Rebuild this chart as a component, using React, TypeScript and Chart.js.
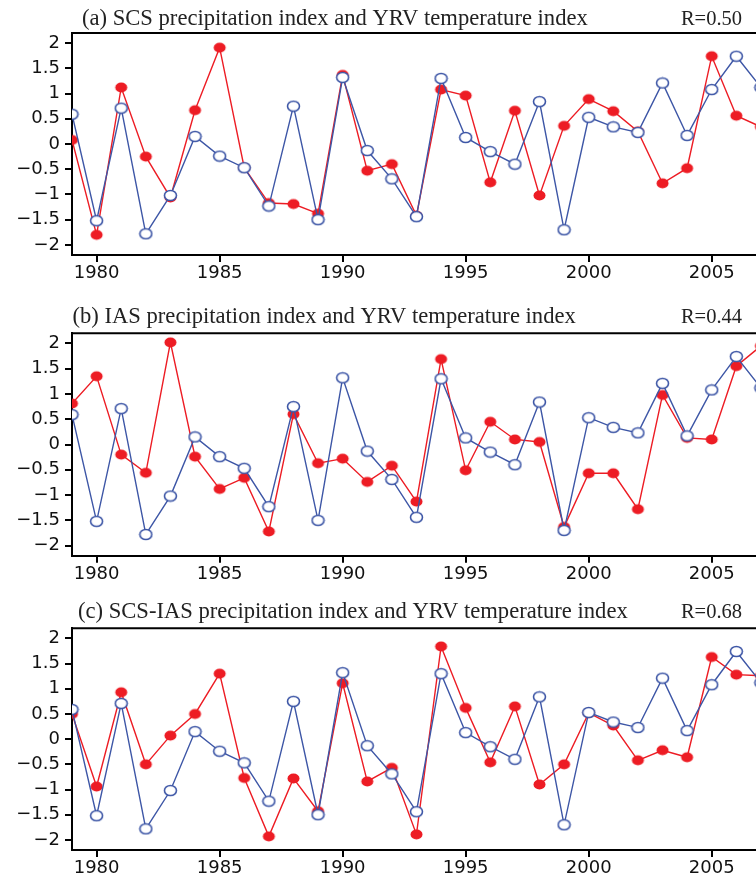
import React, { useEffect, useRef } from 'react';
import { Chart, registerables } from 'chart.js';
Chart.register(...registerables);

// ---------- data ----------
const years = [
  1979, 1980, 1981, 1982, 1983, 1984, 1985, 1986, 1987, 1988, 1989, 1990, 1991, 1992, 1993,
  1994, 1995, 1996, 1997, 1998, 1999, 2000, 2001, 2002, 2003, 2004, 2005, 2006, 2007,
];
const yrvTemperature = [
  0.59, -1.52, 0.71, -1.78, -1.02, 0.15, -0.24, -0.47, -1.23, 0.75, -1.5, 1.32, -0.13, -0.69, -1.44,
  1.3, 0.13, -0.15, -0.4, 0.84, -1.7, 0.53, 0.34, 0.23, 1.21, 0.17, 1.08, 1.74, 1.12,
];
const scsPrecip = [
  0.08, -1.8, 1.12, -0.25, -1.06, 0.67, 1.91, -0.47, -1.17, -1.19, -1.38, 1.37, -0.53, -0.4, -1.42,
  1.08, 0.96, -0.76, 0.66, -1.02, 0.36, 0.89, 0.65, 0.25, -0.78, -0.48, 1.74, 0.56, 0.34,
];
const iasPrecip = [
  0.81, 1.35, -0.2, -0.56, 2.02, -0.24, -0.88, -0.66, -1.72, 0.6, -0.37, -0.28, -0.74, -0.42, -1.13,
  1.69, -0.51, 0.45, 0.1, 0.05, -1.63, -0.57, -0.57, -1.28, 0.98, 0.13, 0.1, 1.55, 1.95,
];
const scsIasPrecip = [
  0.5, -0.94, 0.93, -0.5, 0.07, 0.5, 1.3, -0.77, -1.93, -0.78, -1.43, 1.11, -0.84, -0.57, -1.89,
  1.84, 0.62, -0.46, 0.65, -0.9, -0.5, 0.52, 0.27, -0.42, -0.22, -0.36, 1.63, 1.28, 1.26,
];
const xTickValues = [1980, 1985, 1990, 1995, 2000, 2005];
const yTickValues = [-2, -1.5, -1, -0.5, 0, 0.5, 1, 1.5, 2];
const panelTitles = [
  '(a) SCS precipitation index and YRV temperature index',
  '(b) IAS precipitation index and YRV temperature index',
  '(c) SCS-IAS precipitation index and YRV temperature index',
];
const panelR = ['R=0.50', 'R=0.44', 'R=0.68'];
const panelPrecip = [scsPrecip, iasPrecip, scsIasPrecip];

// ---------- styles ----------
const RED = '#ed1c24';
const BLUE = '#3d56a6';
const TICK_FONT = { family: '"DejaVu Sans", sans-serif', size: 18 };

function makeEllipse(filled: boolean, color: string): HTMLCanvasElement {
  const c = document.createElement('canvas');
  c.width = 15;
  c.height = 13;
  const g = c.getContext('2d')!;
  g.beginPath();
  g.ellipse(7.5, 6.5, 6, 5, 0, 0, Math.PI * 2);
  if (filled) {
    g.fillStyle = color;
    g.fill();
  } else {
    g.fillStyle = '#ffffff';
    g.fill();
    g.lineWidth = 1.6;
    g.strokeStyle = color;
    g.stroke();
  }
  return c;
}

const layouts = [
  { height: 290, top: 33, bottom: 255, titleX: 82, titleY: 25 },
  { height: 290, top: 43.3, bottom: 265.7, titleX: 72.5, titleY: 33.3 },
  { height: 300, top: 48.3, bottom: 270, titleX: 78, titleY: 38.3 },
];

function Panel({ idx }: { idx: number }) {
  const ref = useRef<HTMLCanvasElement>(null);
  const L = layouts[idx];
  useEffect(() => {
    const canvas = ref.current!;
    const redDot = makeEllipse(true, RED);
    const blueRing = makeEllipse(false, BLUE);
    const frame = {
      id: 'frame',
      afterDraw(chart: any) {
        const { ctx, chartArea } = chart;
        ctx.save();
        ctx.strokeStyle = '#000';
        ctx.lineWidth = 2;
        ctx.beginPath();
        ctx.moveTo(chartArea.left, chartArea.top);
        ctx.lineTo(chart.width + 2, chartArea.top);
        ctx.stroke();
        ctx.fillStyle = '#222';
        ctx.textBaseline = 'alphabetic';
        ctx.textAlign = 'left';
        ctx.font = '22.6px "Liberation Serif", "Times New Roman", serif';
        ctx.fillText(panelTitles[idx], L.titleX, L.titleY);
        ctx.textAlign = 'right';
        ctx.font = '20.5px "Liberation Serif", "Times New Roman", serif';
        ctx.fillText(panelR[idx], 742, L.titleY);
        ctx.restore();
      },
    };
    const chart = new Chart(canvas, {
      type: 'line',
      data: {
        datasets: [
          {
            label: 'YRV temperature index',
            data: years.map((y, i) => ({ x: y, y: yrvTemperature[i] })),
            borderColor: BLUE,
            borderWidth: 1.4,
            pointStyle: blueRing as any,
            pointRadius: 6,
            tension: 0,
          },
          {
            label: 'precipitation index',
            data: years.map((y, i) => ({ x: y, y: panelPrecip[idx][i] })),
            borderColor: RED,
            borderWidth: 1.4,
            pointStyle: redDot as any,
            pointRadius: 6,
            tension: 0,
          },
        ],
      },
      options: {
        animation: false,
        responsive: false,
        events: [],
        layout: { autoPadding: false, padding: { top: L.top, left: 0, right: 0, bottom: 0 } },
        plugins: { legend: { display: false }, title: { display: false }, tooltip: { enabled: false } },
        scales: {
          x: {
            type: 'linear',
            min: 1979,
            max: 2006.8,
            afterBuildTicks: (s: any) => {
              s.ticks = xTickValues.map((v) => ({ value: v }));
            },
            afterFit: (s: any) => {
              s.height = L.height - L.bottom;
              s.paddingLeft = 0;
              s.paddingRight = 0;
            },
            grid: { drawOnChartArea: false, drawTicks: true, tickLength: 7, color: '#000', lineWidth: 2 },
            border: { display: true, color: '#000', width: 2 },
            ticks: {
              color: '#111',
              font: TICK_FONT,
              padding: 1,
              maxRotation: 0,
              autoSkip: false,
              callback: (v: any) => String(v),
            },
          },
          y: {
            type: 'linear',
            min: -2.2,
            max: 2.2,
            afterBuildTicks: (s: any) => {
              s.ticks = yTickValues.map((v) => ({ value: v }));
            },
            afterFit: (s: any) => {
              s.width = 72;
              s.paddingTop = 0;
              s.paddingBottom = 0;
            },
            grid: { drawOnChartArea: false, drawTicks: true, tickLength: 7, color: '#000', lineWidth: 2 },
            border: { display: true, color: '#000', width: 2 },
            ticks: {
              color: '#111',
              font: TICK_FONT,
              padding: 5,
              autoSkip: false,
              callback: (v: any) => (v < 0 ? '\u2212' + String(Math.abs(v)) : String(v)),
            },
          },
        },
      },
      plugins: [frame],
    });
    return () => chart.destroy();
  }, [idx]);
  return (
    <canvas
      ref={ref}
      width={756}
      height={L.height}
      style={{ display: 'block', width: 756, height: L.height }}
    />
  );
}

export default function App() {
  return (
    <div style={{ position: 'absolute', left: 0, top: 0, width: 756, height: 880, background: '#fff' }}>
      <Panel idx={0} />
      <Panel idx={1} />
      <Panel idx={2} />
    </div>
  );
}
